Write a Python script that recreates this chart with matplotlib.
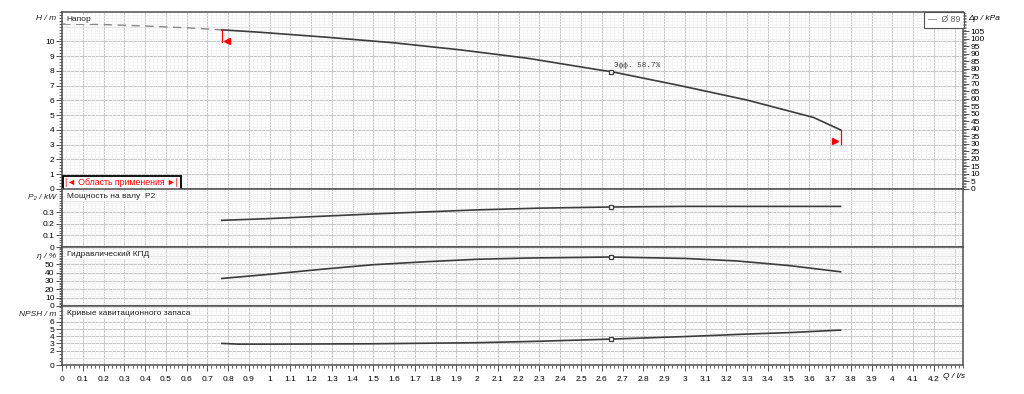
import numpy as np
import matplotlib.pyplot as plt
from matplotlib.ticker import MultipleLocator

plt.rcParams['font.family'] = ['Liberation Sans', 'DejaVu Sans']

# Напор (H), пунктир до начала рабочей зоны
q_dash = [0.0, 0.2, 0.4, 0.6, 0.77]
h_dash = [11.18, 11.15, 11.05, 10.93, 10.79]

q_h = [0.77, 0.95, 1.275, 1.6, 1.92, 2.24, 2.59, 2.645, 2.98, 3.3, 3.62, 3.75]
h_val = [10.79, 10.63, 10.29, 9.91, 9.43, 8.87, 8.07, 7.96, 7.0, 6.03, 4.85, 4.01]

# Мощность P2
q_p = [0.77, 1.0, 1.5, 2.0, 2.3, 2.645, 3.0, 3.4, 3.75]
p_val = [0.23, 0.245, 0.285, 0.32, 0.335, 0.345, 0.35, 0.35, 0.35]

# КПД
q_eta = [0.77, 1.0, 1.25, 1.5, 1.75, 2.0, 2.25, 2.645, 3.0, 3.25, 3.5, 3.75]
eta_val = [33, 38, 44, 49.5, 53, 56, 57.5, 58.7, 57, 54, 48.5, 41]

# NPSH
q_npsh = [0.77, 0.85, 1.0, 1.5, 2.0, 2.3, 2.645, 3.0, 3.3, 3.5, 3.75]
npsh_val = [3.0, 2.9, 2.9, 2.95, 3.1, 3.3, 3.6, 3.95, 4.3, 4.5, 4.85]

q_opt = 2.645
opt_h, opt_p, opt_eta, opt_npsh = 7.96, 0.345, 58.7, 3.6
q_min, q_max = 0.77, 3.75

W, H = 1024, 394
fig = plt.figure(figsize=(W / 100, H / 100), dpi=100)

left = 62 / W
width = (963 - 62) / W
rows = [(12, 189), (189, 247), (247, 306), (306, 365)]
axs = []
for top, bot in rows:
    axs.append(fig.add_axes([left, 1 - bot / H, width, (bot - top) / H]))

curve_c = '#3c3c3c'
spine_c = '#505050'
fs = 6

ylims = [(0, 12), (0, 0.5), (0, 70.7), (0, 8.2)]
ymin = [0.2, 0.02, 2, 0.5]
ylabels = [range(0, 11), [0, 0.1, 0.2, 0.3], range(0, 60, 10), [0, 2, 3, 4, 5, 6]]
titles = ['Напор', 'Мощность на валу  P2', 'Гидравлический КПД', 'Кривые кавитационного запаса']
names = ['H / m', 'P₂ / kW', 'η / %', 'NPSH / m']
name_off = [6, 9, 9, 8]

for i, ax in enumerate(axs):
    ax.set_xlim(0, 4.34)
    ax.set_ylim(*ylims[i])
    ax.set_xticks(np.arange(0, 4.34, 0.1))
    ax.xaxis.set_minor_locator(MultipleLocator(0.02))
    ax.set_yticks(list(ylabels[i]))
    ax.set_yticklabels([f'{v:g}' for v in ylabels[i]], fontsize=fs)
    ax.yaxis.set_minor_locator(MultipleLocator(ymin[i]))
    # major horizontal grid lines every major step
    step = [1, 0.1, 10, 1][i]
    for y in np.arange(step, ylims[i][1], step):
        ax.axhline(y, color='#c8c8c8', lw=0.8, zorder=0.5)
    ax.grid(which='minor', color='#f1f1f1', lw=0.5)
    ax.grid(which='major', axis='x', color='#c8c8c8', lw=0.8)
    ax.set_axisbelow(True)
    for s in ax.spines.values():
        s.set_color(spine_c)
        s.set_linewidth(1.1)
    ax.tick_params(axis='y', which='major', length=4, width=0.7, color=spine_c, pad=1.5)
    ax.tick_params(axis='y', which='minor', length=2.5, width=0.6, color=spine_c)
    if i < 3:
        ax.tick_params(axis='x', which='both', bottom=False, labelbottom=False)
    ax.text(0.005, 1 - 4 / ((rows[i][1] - rows[i][0])), titles[i], transform=ax.transAxes,
            fontsize=fs, va='top', ha='left', color='#202020',
            bbox=dict(facecolor='white', edgecolor='none', pad=0.5))
    fig.text(56 / W, 1 - (rows[i][0] + name_off[i]) / H, names[i], fontsize=fs, style='italic',
             ha='right', va='center', color='#202020')

# x axis on bottom panel
axb = axs[3]
xt = np.round(np.arange(0, 4.21, 0.1), 1)
axb.set_xticks(xt)
axb.set_xticklabels([f'{v:g}' for v in xt], fontsize=fs)
axb.xaxis.set_minor_locator(MultipleLocator(0.02))
axb.tick_params(axis='x', which='major', length=4, width=0.7, color=spine_c, pad=4)
axb.tick_params(axis='x', which='minor', length=2.5, width=0.6, color=spine_c)
fig.text(943 / W, 1 - 377 / H, 'Q / l/s', fontsize=fs, style='italic', ha='left', va='center')

# top panel: head
ax = axs[0]
ax.plot(q_dash, h_dash, color='#8a8a8a', lw=1.0, dashes=(6, 4))
ax.plot(q_h, h_val, color=curve_c, lw=1.2)
ax.plot([q_opt], [opt_h], marker='s', ms=3.5, mfc='white', mec=curve_c, mew=0.9)
ax.annotate('Эфф. 58.7%', (q_opt, opt_h), xytext=(2, 3), textcoords='offset points',
            fontsize=5.5, family='Liberation Mono', color='#404040')
ax.plot([q_min, q_min], [h_val[0], 9.95], color='red', lw=0.9)
ax.plot([q_min + 0.025], [10.0], marker='<', color='red', ms=4.5)
ax.plot([q_max, q_max], [h_val[-1], 3.06], color='red', lw=0.9)
ax.plot([q_max - 0.025], [3.26], marker='>', color='red', ms=4.5)

# application range box
ax.text(0.0035, 0.01, '|◄ Область применения ►|', transform=ax.transAxes, fontsize=6.3,
        color='red', ha='left', va='bottom',
        bbox=dict(facecolor='white', edgecolor='black', lw=1.3, boxstyle='square,pad=0.3'))

# legend
ax.text(0.997, 0.982, '—  Ø 89', transform=ax.transAxes, fontsize=6.3, color='#606060',
        ha='right', va='top',
        bbox=dict(facecolor='white', edgecolor='#505050', lw=0.8, boxstyle='square,pad=0.4'))

# right axis in kPa
axr = ax.twinx()
axr.set_ylim(0, 12 * 9.81)
axr.set_yticks(range(0, 106, 5))
axr.set_yticklabels([str(v) for v in range(0, 106, 5)], fontsize=fs)
axr.yaxis.set_minor_locator(MultipleLocator(1))
axr.tick_params(axis='y', which='major', length=4, width=0.7, color=spine_c, pad=1.5)
axr.tick_params(axis='y', which='minor', length=2, width=0.5, color=spine_c)
for s in axr.spines.values():
    s.set_visible(False)
fig.text(968 / W, 1 - 18 / H, 'Δp / kPa', fontsize=fs, style='italic', ha='left', va='center')

# power
axs[1].plot(q_p, p_val, color=curve_c, lw=1.2)
axs[1].plot([q_opt], [opt_p], marker='s', ms=3.5, mfc='white', mec=curve_c, mew=0.9)

# efficiency
axs[2].plot(q_eta, eta_val, color=curve_c, lw=1.2)
axs[2].plot([q_opt], [opt_eta], marker='s', ms=3.5, mfc='white', mec=curve_c, mew=0.9)

# NPSH
axs[3].plot(q_npsh, npsh_val, color=curve_c, lw=1.2)
axs[3].plot([q_opt], [opt_npsh], marker='s', ms=3.5, mfc='white', mec=curve_c, mew=0.9)

fig.savefig('out.png', dpi=100)
